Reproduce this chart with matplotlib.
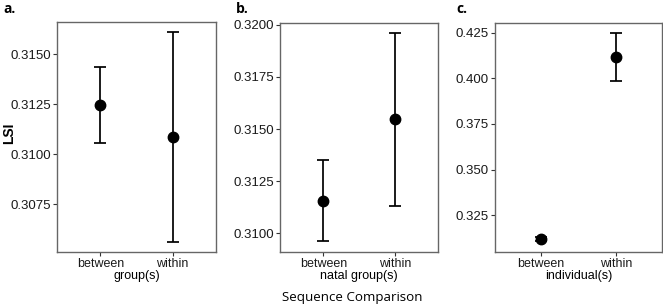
import matplotlib
matplotlib.use("Agg")
import matplotlib.pyplot as plt
import numpy as np

categories = ["between", "within"]

# panel a: group(s)
a_mean = [0.31245, 0.31088]
a_lo = [0.31057, 0.30563]
a_hi = [0.31435, 0.31610]

# panel b: natal group(s)
b_mean = [0.31157, 0.31548]
b_lo = [0.30962, 0.31132]
b_hi = [0.31353, 0.31960]

# panel c: individual(s)
c_mean = [0.31206, 0.41163]
c_lo = [0.31080, 0.39874]
c_hi = [0.31330, 0.42467]

a_ticks = [0.3075, 0.3100, 0.3125, 0.3150]
b_ticks = [0.3100, 0.3125, 0.3150, 0.3175, 0.3200]
c_ticks = [0.325, 0.350, 0.375, 0.400, 0.425]

plt.rcParams['font.family'] = ['Liberation Sans', 'DejaVu Sans']

W, H = 663, 306
fig = plt.figure(figsize=(W / 100, H / 100), dpi=100)

panels = [
    dict(rect=(57, 22, 216, 252), mean=a_mean, lo=a_lo, hi=a_hi, ticks=a_ticks,
         fmt="{:.4f}", xlabel="group(s)", tag="a.", tagx=3),
    dict(rect=(280.3, 22.7, 438.3, 251.7), mean=b_mean, lo=b_lo, hi=b_hi, ticks=b_ticks,
         fmt="{:.4f}", xlabel="natal group(s)", tag="b.", tagx=236),
    dict(rect=(495.3, 22.7, 661.7, 251.7), mean=c_mean, lo=c_lo, hi=c_hi, ticks=c_ticks,
         fmt="{:.3f}", xlabel="individual(s)", tag="c.", tagx=456),
]

for i, p in enumerate(panels):
    x0, y0, x1, y1 = p["rect"]
    ax = fig.add_axes([x0 / W, 1 - y1 / H, (x1 - x0) / W, (y1 - y0) / H])
    x = np.arange(1, len(categories) + 1)
    mean = np.array(p["mean"])
    lo = np.array(p["lo"])
    hi = np.array(p["hi"])
    ax.errorbar(x, mean, yerr=[mean - lo, hi - mean], fmt='none', ecolor='black',
                elinewidth=1.25, capsize=4, capthick=1.25, zorder=2)
    ax.plot(x, mean, 'o', color='black', markersize=7.5, zorder=3)
    span = hi.max() - lo.min()
    ax.set_ylim(lo.min() - 0.05 * span, hi.max() + 0.05 * span)
    ax.set_xlim(0.4, 2.6)
    ax.set_xticks(x)
    ax.set_xticklabels(categories)
    ax.set_yticks(p["ticks"])
    ax.set_yticklabels([p["fmt"].format(t) for t in p["ticks"]])
    ax.tick_params(axis='y', labelsize=9.5, colors='#333333', length=3, width=0.8,
                   labelcolor='#1a1a1a', pad=1.5)
    ax.tick_params(axis='x', labelsize=9, colors='#333333', length=3, width=0.8,
                   labelcolor='#1a1a1a', pad=1.5)
    for s in ax.spines.values():
        s.set_color('#666666')
        s.set_linewidth(1.0)
    ax.set_xlabel(p["xlabel"], fontsize=9, labelpad=0, color='black')
    fig.text(p["tagx"] / W, 1 - 9 / H, p["tag"], fontsize=10, fontweight='bold',
             family=['Open Sans', 'DejaVu Sans'], ha='left', va='center')

fig.text(9 / W, 1 - 133 / H, "LSI", fontsize=10, fontweight='bold', rotation=90,
         ha='center', va='center')

fig.text(352 / W, 1 - 297 / H, "Sequence Comparison", fontsize=9.6,
         family=['Open Sans', 'DejaVu Sans'], ha='center', va='center')

fig.savefig("out.png", dpi=100)
